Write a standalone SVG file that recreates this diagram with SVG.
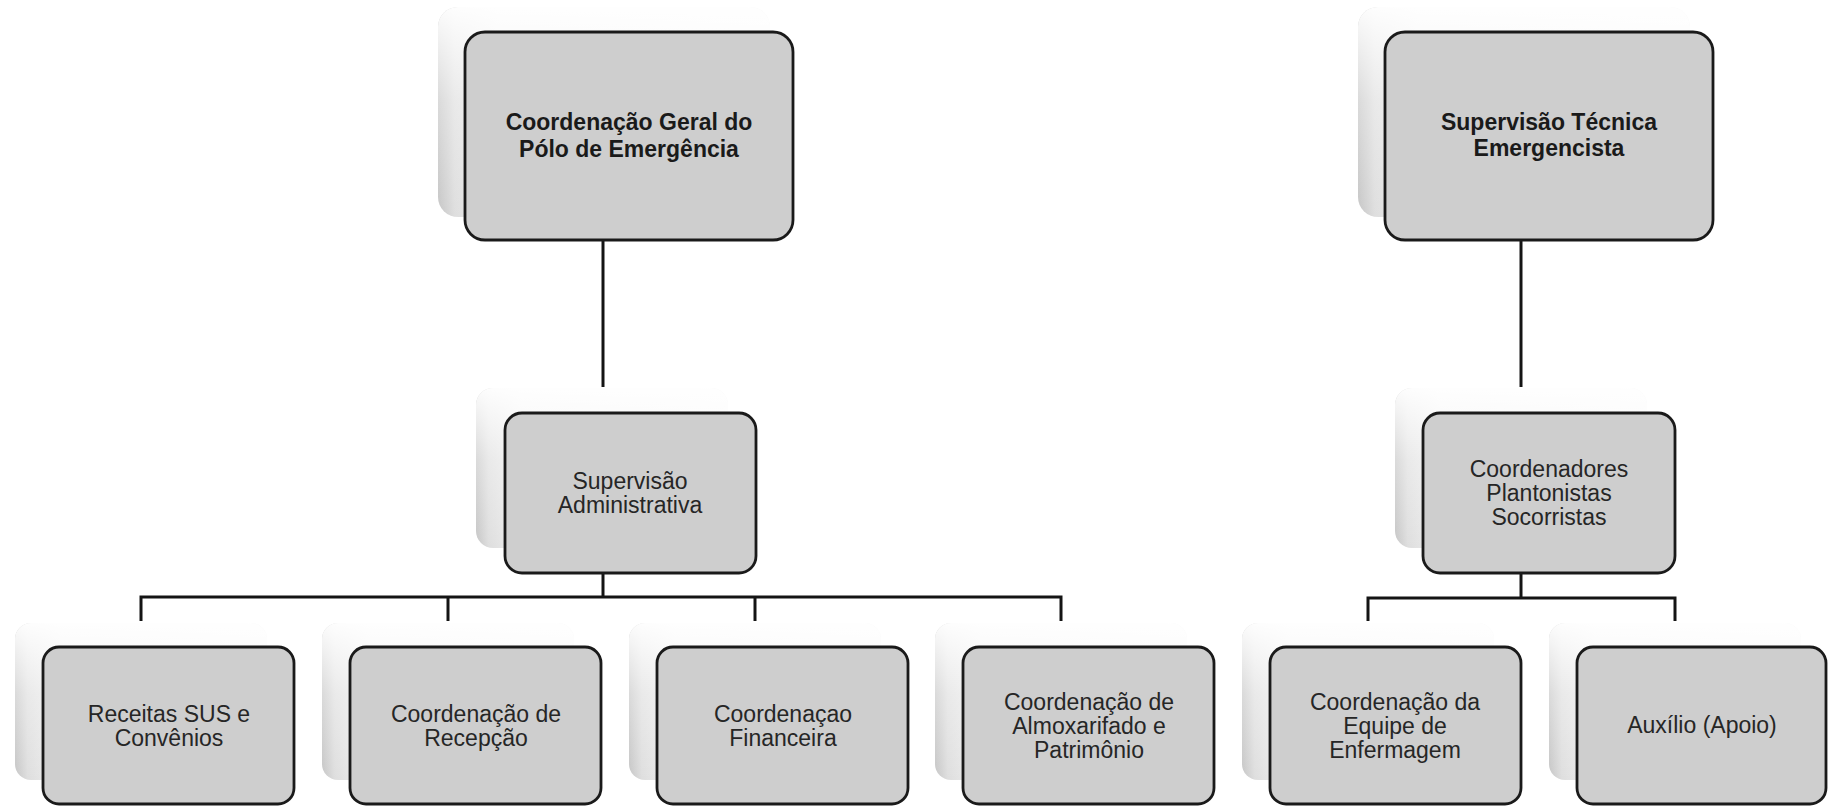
<svg xmlns="http://www.w3.org/2000/svg" width="1828" height="806" viewBox="0 0 1828 806">
<defs>
<linearGradient id="shH" x1="0" y1="0" x2="1" y2="0">
<stop offset="0" stop-color="#c6c6c6"/>
<stop offset="0.05" stop-color="#dedede"/>
<stop offset="0.18" stop-color="#efefef"/>
<stop offset="1" stop-color="#f6f6f6"/>
</linearGradient>
<linearGradient id="shV" x1="0" y1="0" x2="0" y2="1">
<stop offset="0" stop-color="#ffffff" stop-opacity="0.95"/>
<stop offset="0.45" stop-color="#ffffff" stop-opacity="0.35"/>
<stop offset="1" stop-color="#ffffff" stop-opacity="0"/>
</linearGradient>
<style>
.sh{fill:url(#shH);}
.shv{fill:url(#shV);}
.box{fill:#cecece;stroke:#1a1a1a;stroke-width:2.8;}
.conn{fill:none;stroke:#141414;stroke-width:3;}
.t{font-family:"Liberation Sans",Arial,sans-serif;font-size:23px;fill:#262626;text-anchor:middle;}
.tb{font-family:"Liberation Sans",Arial,sans-serif;font-size:23px;font-weight:bold;fill:#1a1a1a;text-anchor:middle;}
</style>
</defs>
<rect width="1828" height="806" fill="#ffffff"/>

<g id="connectors">
<path class="conn" d="M603 240 V387"/>
<path class="conn" d="M1521 240 V387"/>
<path class="conn" d="M603 573 V597"/>
<path class="conn" d="M141 621 V597 H1061 V621"/>
<path class="conn" d="M448 597 V621"/>
<path class="conn" d="M755 597 V621"/>
<path class="conn" d="M1521 573 V598"/>
<path class="conn" d="M1368 621 V598 H1675 V621"/>
</g>

<g id="node-coord-geral">
<rect class="sh" x="438" y="7" width="332" height="210" rx="20"/>
<rect class="shv" x="438" y="7" width="332" height="210" rx="20"/>
<rect class="box" x="465" y="32" width="328" height="208" rx="20"/>
<text class="tb" x="629" y="130">Coordenação Geral do</text>
<text class="tb" x="629" y="157">Pólo de Emergência</text>
</g>

<g id="node-sup-tecnica">
<rect class="sh" x="1358" y="7" width="332" height="210" rx="20"/>
<rect class="shv" x="1358" y="7" width="332" height="210" rx="20"/>
<rect class="box" x="1385" y="32" width="328" height="208" rx="20"/>
<text class="tb" x="1549" y="130">Supervisão Técnica</text>
<text class="tb" x="1549" y="156">Emergencista</text>
</g>

<g id="node-sup-admin">
<rect class="sh" x="476" y="388" width="252" height="160" rx="17"/>
<rect class="shv" x="476" y="388" width="252" height="160" rx="17"/>
<rect class="box" x="505" y="413" width="251" height="160" rx="17"/>
<text class="t" x="630" y="489">Supervisão</text>
<text class="t" x="630" y="513">Administrativa</text>
</g>

<g id="node-coordenadores">
<rect class="sh" x="1395" y="388" width="252" height="160" rx="17"/>
<rect class="shv" x="1395" y="388" width="252" height="160" rx="17"/>
<rect class="box" x="1423" y="413" width="252" height="160" rx="17"/>
<text class="t" x="1549" y="477">Coordenadores</text>
<text class="t" x="1549" y="501">Plantonistas</text>
<text class="t" x="1549" y="525">Socorristas</text>
</g>

<g id="node-receitas">
<rect class="sh" x="15" y="623" width="252" height="157" rx="16"/>
<rect class="shv" x="15" y="623" width="252" height="157" rx="16"/>
<rect class="box" x="43" y="647" width="251" height="157" rx="16"/>
<text class="t" x="169" y="722">Receitas SUS e</text>
<text class="t" x="169" y="746">Convênios</text>
</g>

<g id="node-recepcao">
<rect class="sh" x="322" y="623" width="252" height="157" rx="16"/>
<rect class="shv" x="322" y="623" width="252" height="157" rx="16"/>
<rect class="box" x="350" y="647" width="251" height="157" rx="16"/>
<text class="t" x="476" y="722">Coordenação de</text>
<text class="t" x="476" y="746">Recepção</text>
</g>

<g id="node-financeira">
<rect class="sh" x="629" y="623" width="252" height="157" rx="16"/>
<rect class="shv" x="629" y="623" width="252" height="157" rx="16"/>
<rect class="box" x="657" y="647" width="251" height="157" rx="16"/>
<text class="t" x="783" y="722">Coordenaçao</text>
<text class="t" x="783" y="746">Financeira</text>
</g>

<g id="node-almoxarifado">
<rect class="sh" x="935" y="623" width="252" height="157" rx="16"/>
<rect class="shv" x="935" y="623" width="252" height="157" rx="16"/>
<rect class="box" x="963" y="647" width="251" height="157" rx="16"/>
<text class="t" x="1089" y="710">Coordenação de</text>
<text class="t" x="1089" y="734">Almoxarifado e</text>
<text class="t" x="1089" y="758">Patrimônio</text>
</g>

<g id="node-enfermagem">
<rect class="sh" x="1242" y="623" width="252" height="157" rx="16"/>
<rect class="shv" x="1242" y="623" width="252" height="157" rx="16"/>
<rect class="box" x="1270" y="647" width="251" height="157" rx="16"/>
<text class="t" x="1395" y="710">Coordenação da</text>
<text class="t" x="1395" y="734">Equipe de</text>
<text class="t" x="1395" y="758">Enfermagem</text>
</g>

<g id="node-auxilio">
<rect class="sh" x="1549" y="623" width="252" height="157" rx="16"/>
<rect class="shv" x="1549" y="623" width="252" height="157" rx="16"/>
<rect class="box" x="1577" y="647" width="249" height="157" rx="16"/>
<text class="t" x="1702" y="733">Auxílio (Apoio)</text>
</g>
</svg>
